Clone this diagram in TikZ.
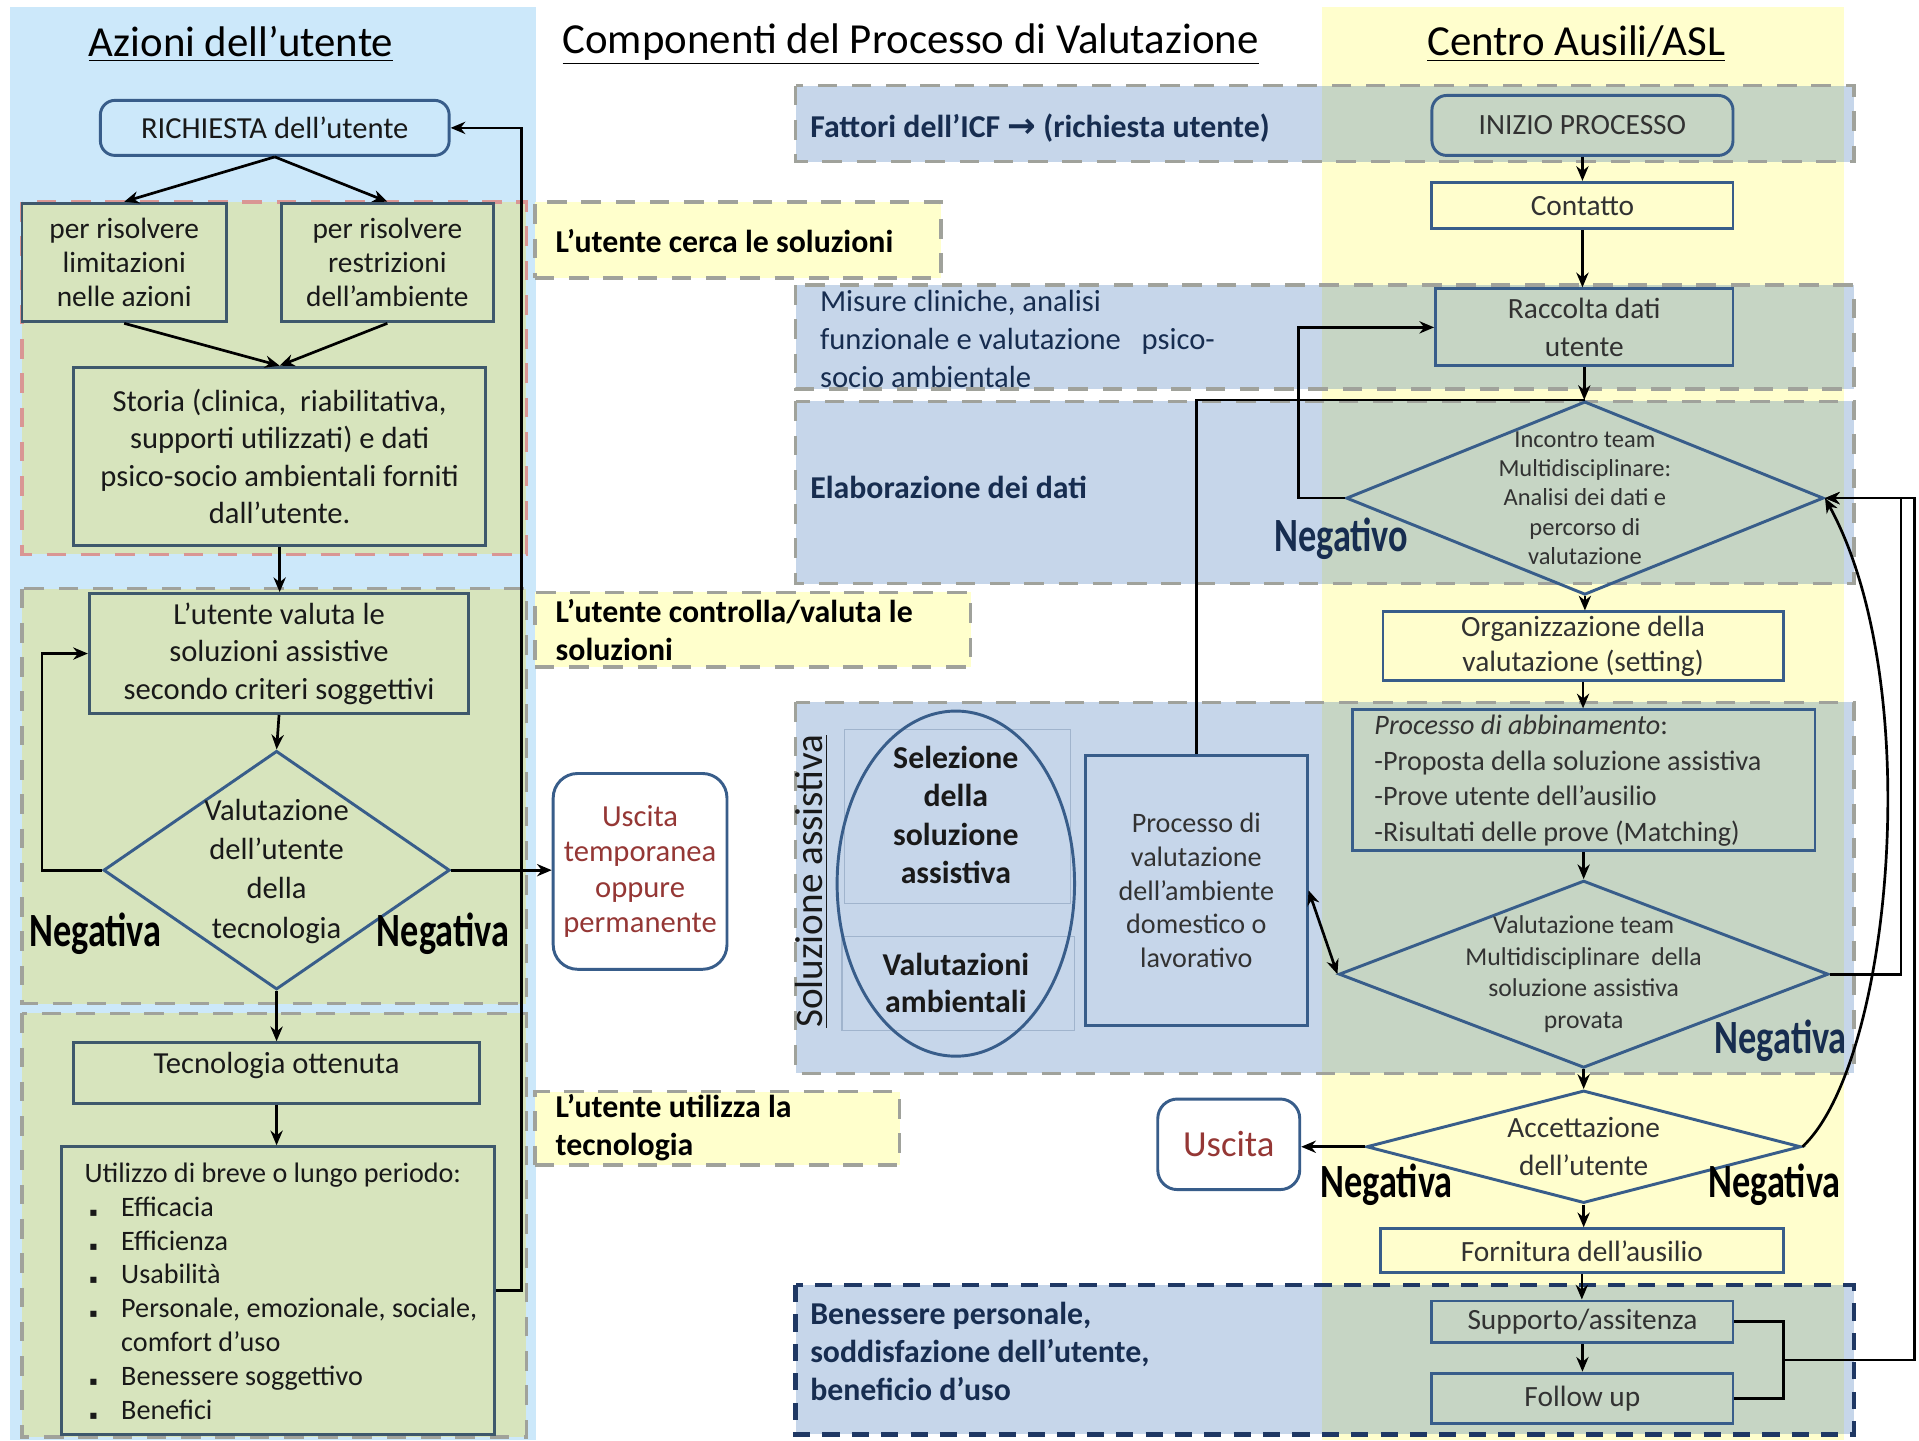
\documentclass[tikz,border=0pt]{standalone}
\usepackage{fontspec}
\setmainfont{Carlito}
\newfontfamily\djv{DejaVu Sans}
\usetikzlibrary{arrows.meta,shapes.geometric,fit,calc}
\definecolor{panelblue}{RGB}{204,232,250}
\definecolor{panelyellow}{RGB}{255,254,205}
\definecolor{greenfill}{RGB}{215,228,189}
\definecolor{labelyellow}{RGB}{255,255,204}
\definecolor{dashgray}{RGB}{160,162,155}
\definecolor{dashred}{RGB}{217,150,148}
\definecolor{dashnavy}{RGB}{31,56,100}
\definecolor{regblue}{RGB}{31,94,172}
\definecolor{boxline}{RGB}{56,93,138}
\definecolor{leftline}{RGB}{62,88,108}
\definecolor{navytext}{RGB}{23,45,80}
\definecolor{redtext}{RGB}{149,55,53}
\definecolor{graytext}{RGB}{50,50,50}
\definecolor{lefttext}{RGB}{25,25,25}
\definecolor{faint}{RGB}{160,180,205}
\newcommand\fsz[2]{\fontsize{#1}{#2}\selectfont}
\newcommand\condensed[1]{\scalebox{0.76}[1]{#1}}
\newcommand\bul{\hspace*{2pt}\makebox[13pt][l]{\djv\fontsize{5}{5}\selectfont ▪}}
\begin{document}
\begin{tikzpicture}[x=0.5pt,y=-0.5pt,
 arr/.style={-{Stealth[length=6pt,width=5pt]}, line width=1.1pt, draw=black},
 conn/.style={line width=1.1pt, draw=black},
 lbox/.style={draw=leftline, line width=1.2pt, fill=greenfill, inner sep=0pt},
 rbox/.style={draw=boxline, line width=1.2pt, inner sep=0pt},
 dia/.style={diamond, draw=boxline, line width=1.2pt, inner sep=0pt},
 ltext/.style={align=center, text=lefttext, font=\fsz{12.5}{15.25}},
 rtext/.style={align=center, text=graytext, font=\fsz{12}{15.5}},
 leftreg/.style={fill=greenfill, draw=dashgray, line width=1.4pt, dash pattern=on 8pt off 6pt},
 region/.style={fill=regblue, fill opacity=0.25, draw=dashgray, line width=1.4pt, dash pattern=on 8pt off 6pt},
 labbox/.style={fill=labelyellow, draw=dashgray, line width=1.4pt, dash pattern=on 8pt off 6pt, inner sep=0pt},
 labtxt/.style={anchor=west, align=left, text=black, font=\fsz{13}{15.5}\bfseries},
 regtxt/.style={anchor=west, align=left, text=navytext, font=\fsz{13}{15.5}\bfseries},
 neg/.style={text=black, font=\fsz{19.5}{20}\bfseries},
 title/.style={font=\fsz{17.5}{20}, text=black},
 faintbox/.style={draw=faint, line width=0.5pt}
]
\useasboundingbox (0,0) rectangle (1568,1177);
\fill[white] (0,0) rectangle (1568,1177);
% panels
\fill[panelblue] (8,6) rectangle (438,1177);
\fill[panelyellow] (1080,6) rectangle (1507,1177);

% titles
\node[title] (t1) at (197,36) {\underline{Azioni dell’utente}};
\node[title] (t2) at (744,36) {\underline{Componenti del Processo di Valutazione}};
\node[title] (t3) at (1288,36) {\underline{Centro Ausili/ASL}};

% left regions
\draw[leftreg, draw=dashred] (18,165) rectangle (430,453);
\draw[leftreg] (18,481) rectangle (430,820);
\draw[leftreg] (18,828) rectangle (430,1174);

% middle yellow labels
\node[labbox, fit={(437,165)(769,227)}] (lab1) {};
\node[labbox, fit={(437,484)(793,545)}] (lab2) {};
\node[labbox, fit={(437,892)(735,952)}] (lab3) {};
\node[labtxt] (lab1t) at (447,197) {L’utente cerca le soluzioni};
\node[labtxt] (lab2t) at (447,515) {L’utente controlla/valuta le\\soluzioni};
\node[labtxt] (lab3t) at (447,921) {L’utente utilizza la\\tecnologia};

% blue regions
\draw[region] (650,70) rectangle (1515,132);
\draw[region] (650,233) rectangle (1515,318);
\draw[region] (650,328) rectangle (1515,477);
\draw[region] (650,574) rectangle (1515,877);
\draw[region, draw=dashnavy, line width=1.8pt, dash pattern=on 7pt off 5pt] (650,1050) rectangle (1515,1172);

\node[regtxt] (r1t) at (655,105) {Fattori dell’ICF {\djv\bfseries\fsz{14}{14}→} (richiesta utente)};
\node[regtxt, font=\fsz{12.5}{15.5}] (r2t) at (663,277) {Misure cliniche, analisi\\funzionale e valutazione\ \ \ psico-\\socio ambientale};
\node[regtxt] (r3t) at (655,398) {Elaborazione dei dati};
\node[regtxt] (r5t) at (655,1104) {Benessere personale,\\soddisfazione dell’utente,\\beneficio d’uso};

% left column nodes
\node[lbox, rounded corners=6pt, draw=boxline, fill=panelblue, fit={(82,82)(367,127)}] (richiesta) {};
\node[ltext] (richiestaT) at (richiesta.center) {RICHIESTA dell’utente};
\node[lbox, fit={(18,166)(185,263)}] (boxA) {};
\node[ltext, font=\fsz{12}{14}] (boxAT) at (boxA.center) {per risolvere\\limitazioni\\nelle azioni};
\node[lbox, fit={(230,166)(403,263)}] (boxB) {};
\node[ltext, font=\fsz{12}{14}] (boxBT) at (boxB.center) {per risolvere\\restrizioni\\dell’ambiente};
\node[lbox, fit={(60,300)(397,446)}] (storia) {};
\node[ltext] (storiaT) at (storia.center) {Storia (clinica,\ \ riabilitativa,\\supporti utilizzati)\ e dati\\psico-socio\ ambientali forniti\\dall’utente.};
\node[lbox, fit={(73,485)(383,583)}] (valuta) {};
\node[ltext] (valutaT) at (valuta.center) {L’utente valuta le\\soluzioni\ assistive\\secondo\ criteri soggettivi};
\node[dia, minimum width=141.5pt, minimum height=97.5pt] (diamL) at (226,711) {};
\node[ltext, font=\fsz{12.5}{16}] (diamLt) at (226,712) {Valutazione\\dell’utente\\della\\tecnologia};
\node[lbox, fit={(60,852)(392,902)}] (tecno) {};
\node[ltext, anchor=north] (tecnoT) at (226,853) {Tecnologia ottenuta};
\node[lbox, fit={(50,937)(404,1172)}] (utilizzo) {};
\node[ltext, align=left, anchor=west, font=\fsz{11.5}{13.8}] (utilT) at (62,1055) {Utilizzo di breve o lungo periodo:\\\bul Efficacia\\\bul Efficienza\\\bul Usabilità\\\bul Personale, emozionale, sociale,\\\hspace*{15pt}comfort d’uso\\\bul Benessere soggettivo\\\bul Benefici};

\node[neg] (negL1) at (78,763) {\condensed{Negativa}};
\node[neg] (negL2) at (362,763) {\condensed{Negativa}};

% uscita temporanea
\node[rbox, rounded corners=10pt, fill=white, fit={(452,632)(594,792)}] (uscitaT) {};
\node[rtext, text=redtext, font=\fsz{12.5}{14.5}] (uscitaTT) at (uscitaT.center) {Uscita\\temporanea\\oppure\\permanente};

% soluzione assistiva contents
\draw[faintbox] (690,596) rectangle (875,738);
\draw[faintbox] (688,765) rectangle (878,842);
\node[ellipse, draw=boxline, line width=1.2pt, minimum width=97pt, minimum height=141pt, inner sep=0pt] (ell) at (781,722) {};
\node[align=center, font=\fsz{13}{15.75}\bfseries, text=lefttext] (selT) at (781,666) {Selezione\\della\\soluzione\\assistiva};
\node[align=center, font=\fsz{13}{15}\bfseries, text=lefttext] (valT) at (781,803) {Valutazioni\\ambientali};
\node[rbox, fit={(887,617)(1068,838)}] (procAmb) {};
\node[rtext, font=\fsz{11.5}{13.75}] (procAmbT) at (procAmb.center) {Processo di\\valutazione\\dell’ambiente\\domestico o\\lavorativo};
\node[rotate=90, font=\fsz{16}{18}, text=lefttext] (solLab) at (663,720) {\underline{Soluzione assistiva}};

% right column nodes
\node[rbox, rounded corners=6pt, fit={(1170,78)(1416,127)}] (inizio) {};
\node[rtext] (inizioT) at (inizio.center) {INIZIO PROCESSO};
\node[rbox, fill=panelyellow, fit={(1170,149)(1416,187)}] (contatto) {};
\node[rtext] (contattoT) at (contatto.center) {Contatto};
\node[rbox, fit={(1173,236)(1416,299)}] (raccolta) {};
\node[rtext] (raccoltaT) at (raccolta.center) {Raccolta dati\\utente};
\node[dia, minimum width=195pt, minimum height=79pt] (d1) at (1295,407) {};
\node[rtext, font=\fsz{10}{11.9}] (d1t) at (1295,407) {Incontro team\\Multidisciplinare:\\Analisi dei dati e\\percorso di\\valutazione};
\node[rbox, fill=panelyellow, fit={(1130,500)(1457,556)}] (org) {};
\node[rtext, font=\fsz{12}{14}] (orgT) at (org.center) {Organizzazione della\\valutazione (setting)};
\node[rbox, fit={(1105,580)(1483,695)}] (abb) {};
\node[rtext, anchor=west, align=left, font=\fsz{11.5}{14.5}] (abbt) at (1116,638) {\textit{Processo di abbinamento}:\\-Proposta della soluzione assistiva\\-Prove utente dell’ausilio\\-Risultati delle prove (Matching)};
\node[dia, minimum width=200pt, minimum height=76.5pt] (d2) at (1294,796) {};
\node[rtext, font=\fsz{10.5}{13}] (d2t) at (1294,796) {Valutazione\ team\\Multidisciplinare\ \ della\\soluzione assistiva\\provata};
\node[dia, minimum width=177.5pt, minimum height=46pt] (acc) at (1294,937) {};
\node[rtext, font=\fsz{12}{15.5}] (acct) at (1294,937) {Accettazione\\dell’utente};
\node[rbox, rounded corners=8pt, fill=white, fit={(946,898)(1062,972)}] (uscita) {};
\node[rtext, text=redtext, font=\fsz{15}{18}] (uscitaT2) at (uscita.center) {Uscita};
\node[rbox, fill=panelyellow, fit={(1128,1004)(1457,1040)}] (forn) {};
\node[rtext] (fornT) at (forn.center) {Fornitura dell’ausilio};
\node[rbox, fit={(1170,1063)(1416,1097)}] (supp) {};
\node[rtext] (suppT) at (supp.center) {Supporto/assitenza};
\node[rbox, fit={(1170,1122)(1416,1163)}] (follow) {};
\node[rtext] (followT) at (follow.center) {Follow up};

\node[neg, text=navytext] (negD1) at (1096,440) {\condensed{Negativo}};
\node[neg, text=navytext] (negD2) at (1455,850) {\condensed{Negativa}};
\node[neg] (negA1) at (1133,968) {\condensed{Negativa}};
\node[neg] (negA2) at (1450,968) {\condensed{Negativa}};

% left connectors
\draw[arr] (richiesta.south) -- (boxA.north);
\draw[arr] (richiesta.south) -- (boxB.north);
\draw[arr] (boxA.south) -- (storia.north);
\draw[arr] (boxB.south) -- (storia.north);
\draw[arr] (storia.south) -- (storia.south |- valuta.north);
\draw[arr] (valuta.south) -- (diamL.north);
\draw[arr] (diamL.west) -- ++(-49,0) |- (valuta.west);
\draw[arr] (diamL.east) -- (diamL.east -| uscitaT.west);
\draw[arr] (diamL.south) -- (diamL.south |- tecno.north);
\draw[arr] (tecno.south) -- (tecno.south |- utilizzo.north);
\draw[arr] (utilizzo.east) -- ++(21,0) |- (richiesta.east);

% right connectors
\draw[arr] (inizio.south) -- (contatto.north);
\draw[arr] (contatto.south) -- (contatto.south |- raccolta.north);
\draw[arr] (raccolta.south) -- (raccolta.south |- d1.north);
\draw[arr] (d1.west) -- ++(-38,0) |- (raccolta.west);
\draw[conn] (procAmb.north) |- (d1.north);
\draw[arr] (d1.south) -- (d1.south |- org.north);
\draw[arr] (org.south) -- (org.south |- abb.north);
\draw[arr] (abb.south) -- (abb.south |- d2.north);
\draw[arr] (d2.south) -- (acc.north);
\draw[arr] (acc.west) -- (acc.west -| uscita.east);
\draw[arr] (acc.south) -- (acc.south |- forn.north);
\draw[arr] (forn.south) -- (forn.south |- supp.north);
\draw[arr] (supp.south) -- (supp.south |- follow.north);
\draw[{Stealth[length=6pt,width=5pt]}-{Stealth[length=6pt,width=5pt]}, line width=1.1pt] (procAmb.east) -- (d2.west);
\draw[arr] (d2.east) -- ++(58,0) |- (d1.east);
\draw[conn] (supp.east) -- ++(40,0) |- (follow.east);
\coordinate (brk) at ($(supp.east)!0.5!(follow.east)+(40,0)$);
\draw[arr] (brk) -- ++(107,0) |- (d1.east);
\draw[arr] (acc.east) .. controls (1545,870) and (1575,560) .. (d1.east);
\end{tikzpicture}
\end{document}
